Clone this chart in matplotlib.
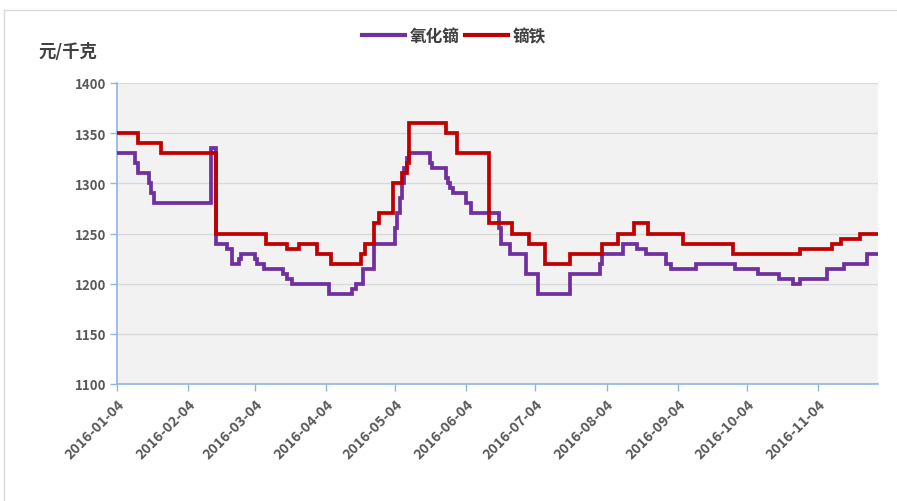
import matplotlib
matplotlib.use("Agg")
import matplotlib.pyplot as plt
import pandas as pd
from matplotlib.lines import Line2D

plt.rcParams['font.family'] = ['Noto Sans CJK SC', 'DejaVu Sans']

# 氧化镝 (step change dates and values)
oxide_dates = ["2016-01-04", "2016-01-12", "2016-01-13", "2016-01-18", "2016-01-19", "2016-01-20",
               "2016-02-14", "2016-02-16", "2016-02-21", "2016-02-23", "2016-02-26", "2016-02-27",
               "2016-03-04", "2016-03-05", "2016-03-08", "2016-03-16", "2016-03-18", "2016-03-20",
               "2016-04-05", "2016-04-15", "2016-04-17", "2016-04-20", "2016-04-25",
               "2016-05-04", "2016-05-05", "2016-05-06", "2016-05-07", "2016-05-08", "2016-05-09", "2016-05-10",
               "2016-05-19", "2016-05-20", "2016-05-26", "2016-05-27", "2016-05-28", "2016-05-29",
               "2016-06-04", "2016-06-06", "2016-06-18", "2016-06-19", "2016-06-23", "2016-06-30",
               "2016-07-05", "2016-07-19", "2016-08-01", "2016-08-02", "2016-08-11", "2016-08-17",
               "2016-08-21", "2016-08-30", "2016-09-01", "2016-09-12", "2016-09-29", "2016-10-09",
               "2016-10-18", "2016-10-24", "2016-10-27", "2016-11-08", "2016-11-15", "2016-11-25",
               "2016-11-30"]
oxide_values = [1330, 1320, 1310, 1300, 1290, 1280,
                1335, 1240, 1235, 1220, 1225, 1230,
                1225, 1220, 1215, 1210, 1205, 1200,
                1190, 1195, 1200, 1215, 1240,
                1255, 1270, 1285, 1300, 1315, 1325, 1330,
                1320, 1315, 1305, 1300, 1295, 1290,
                1280, 1270, 1255, 1240, 1230, 1210,
                1190, 1210, 1220, 1230, 1240, 1235,
                1230, 1220, 1215, 1220, 1215, 1210,
                1205, 1200, 1205, 1215, 1220, 1230,
                1230]

# 镝铁 (step change dates and values)
iron_dates = ["2016-01-04", "2016-01-13", "2016-01-23", "2016-02-16", "2016-03-09", "2016-03-18",
              "2016-03-23", "2016-03-31", "2016-04-06", "2016-04-19", "2016-04-21", "2016-04-25",
              "2016-04-27", "2016-05-03", "2016-05-07", "2016-05-09", "2016-05-10", "2016-05-26",
              "2016-05-31", "2016-06-14", "2016-06-24", "2016-07-01", "2016-07-08", "2016-07-19",
              "2016-08-02", "2016-08-09", "2016-08-16", "2016-08-22", "2016-09-06", "2016-09-28",
              "2016-10-27", "2016-11-10", "2016-11-14", "2016-11-22", "2016-11-30"]
iron_values = [1350, 1340, 1330, 1250, 1240, 1235,
               1240, 1230, 1220, 1230, 1240, 1260,
               1270, 1300, 1310, 1320, 1360, 1350,
               1330, 1260, 1250, 1240, 1220, 1230,
               1240, 1250, 1260, 1250, 1240, 1230,
               1235, 1240, 1245, 1250, 1250]

tick_labels = ["2016-01-04", "2016-02-04", "2016-03-04", "2016-04-04", "2016-05-04", "2016-06-04",
               "2016-07-04", "2016-08-04", "2016-09-04", "2016-10-04", "2016-11-04"]
y_ticks = [1100, 1150, 1200, 1250, 1300, 1350, 1400]

series_names = ["氧化镝", "镝铁"]
colors = ["#7030a0", "#c00000"]

fig = plt.figure(figsize=(8.97, 5.02), dpi=100)
ax = fig.add_axes([117/897, 1 - 385/502, (878-117)/897, (385-84)/502])
ax.set_facecolor("#f2f2f2")

ax.plot(pd.to_datetime(oxide_dates), oxide_values, drawstyle="steps-post",
        color=colors[0], lw=2.7, solid_joinstyle="miter", zorder=3)
ax.plot(pd.to_datetime(iron_dates), iron_values, drawstyle="steps-post",
        color=colors[1], lw=2.7, solid_joinstyle="miter", zorder=4)

ax.set_ylim(1100, 1400)
ax.set_yticks(y_ticks)
ax.set_xlim(pd.Timestamp("2016-01-04"), pd.Timestamp("2016-11-30"))
ax.set_xticks(pd.to_datetime(tick_labels))
ax.set_xticklabels(tick_labels, rotation=45, ha="right", rotation_mode="anchor")
ax.grid(axis="y", color="#d9d9d9", lw=1)
ax.set_axisbelow(True)

for s in ["top", "right"]:
    ax.spines[s].set_visible(False)
for s in ["left", "bottom"]:
    ax.spines[s].set_color("#8eb4e3")
    ax.spines[s].set_linewidth(1.2)
ax.tick_params(axis="both", colors="#8eb4e3", length=5, width=1, direction="out")
for lab in ax.get_xticklabels():
    lab.set_color("#595959")
    lab.set_fontweight("bold")
    lab.set_fontsize(10.2)
for lab in ax.get_yticklabels():
    lab.set_color("#595959")
    lab.set_fontweight("bold")
    lab.set_fontsize(9.5)
ax.tick_params(axis="x", pad=4)
ax.tick_params(axis="y", pad=3)

fig.text(38/897, 1 - 52/502, "元/千克", fontsize=12.5, fontweight="bold", color="#404040",
         ha="left", va="center")

handles = [Line2D([0], [0], color=c, lw=3) for c in colors]
fig.legend(handles, series_names, loc="center", bbox_to_anchor=(454/897, 1 - 37/502),
           ncol=2, frameon=False, handlelength=2.6, handletextpad=0.3, columnspacing=0.3,
           prop={"weight": "bold", "size": 12})
for t in fig.legends[0].get_texts():
    t.set_color("#404040")

# outer frame lines (top and left)
fig.add_artist(Line2D([4/897, 1], [1 - 11/502, 1 - 11/502], color="#d9d9d9", lw=1))
fig.add_artist(Line2D([4/897, 4/897], [0, 1 - 11/502], color="#d9d9d9", lw=1))

fig.savefig("out.png", dpi=100)
